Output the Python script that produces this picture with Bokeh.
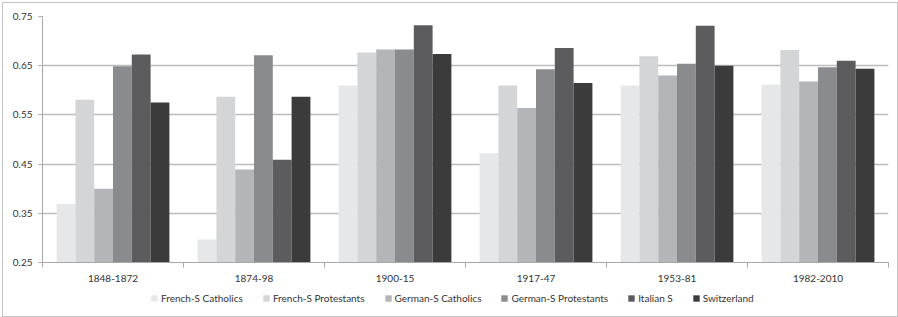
import numpy as np
from bokeh.plotting import figure
from bokeh.layouts import column
from bokeh.models import ColumnDataSource, Range1d, FixedTicker, Legend, LegendItem, NumeralTickFormatter
from bokeh.transform import dodge
from bokeh.embed import file_html
from bokeh.resources import INLINE

periods = ["1848-1872", "1874-98", "1900-15", "1917-47", "1953-81", "1982-2010"]
series_names = ["French-S Catholics", "French-S Protestants", "German-S Catholics",
                "German-S Protestants", "Italian S", "Switzerland"]
french_cath = [0.369, 0.297, 0.610, 0.472, 0.610, 0.612]
french_prot = [0.581, 0.587, 0.677, 0.610, 0.669, 0.682]
german_cath = [0.400, 0.439, 0.683, 0.564, 0.630, 0.618]
german_prot = [0.649, 0.671, 0.683, 0.643, 0.654, 0.647]
italian = [0.673, 0.459, 0.732, 0.686, 0.731, 0.660]
switzerland = [0.575, 0.587, 0.674, 0.615, 0.650, 0.644]
y_ticks = [0.25, 0.35, 0.45, 0.55, 0.65, 0.75]

colors = ["#e6e7e8", "#d4d5d7", "#b4b5b8", "#8a8b8e", "#5c5c5e", "#3b3b3b"]
FONT = "Lato"
W = 894

xc = np.arange(len(periods)) + 0.5
data = dict(x=xc, fc=french_cath, fp=french_prot, gc=german_cath,
            gp=german_prot, it=italian, sw=switzerland)
src = ColumnDataSource(data)
keys = ["fc", "fp", "gc", "gp", "it", "sw"]

p = figure(width=W, height=287, output_backend="svg", toolbar_location=None,
           x_range=Range1d(0, len(periods)), y_range=Range1d(0.25, 0.75))
p.min_border_left = 39
p.min_border_right = 9
p.min_border_top = 13
p.min_border_bottom = 28
p.outline_line_color = None

bw = 1 / 7.5
for i, k in enumerate(keys):
    p.vbar(x=dodge("x", (i - 2.5) * bw, range=p.x_range), top=k, bottom=0.25,
           width=bw, source=src, fill_color=colors[i], line_color=None)

# y axis
p.yaxis.ticker = FixedTicker(ticks=y_ticks)
p.yaxis.formatter = NumeralTickFormatter(format="0.00")
p.yaxis.axis_line_color = "#a8a8a8"
p.yaxis.major_tick_line_color = "#a8a8a8"
p.yaxis.major_tick_out = 4
p.yaxis.major_tick_in = 0
p.yaxis.minor_tick_line_color = None
p.yaxis.major_label_text_font = FONT
p.yaxis.major_label_text_font_size = "10px"
p.yaxis.major_label_text_color = "#333333"
p.yaxis.major_label_standoff = 6

# x axis
p.xaxis.ticker = FixedTicker(ticks=list(xc), minor_ticks=list(range(len(periods) + 1)))
p.xaxis.major_label_overrides = {float(v): lab for v, lab in zip(xc, periods)}
p.xaxis.axis_line_color = "#a8a8a8"
p.xaxis.major_tick_line_color = None
p.xaxis.minor_tick_line_color = "#a8a8a8"
p.xaxis.minor_tick_out = 5
p.xaxis.minor_tick_in = 0
p.xaxis.major_label_text_font = FONT
p.xaxis.major_label_text_font_size = "10px"
p.xaxis.major_label_text_color = "#333333"
p.xaxis.major_label_standoff = 6

p.xgrid.grid_line_color = None
p.ygrid.ticker = FixedTicker(ticks=y_ticks)
p.ygrid.grid_line_color = "#bdbdbd"
p.ygrid.grid_line_width = 1.3

# legend strip (its renderers share the data but sit outside the visible range)
lf = figure(width=W, height=26, output_backend="svg", toolbar_location=None,
            x_range=Range1d(0, len(periods)), y_range=Range1d(10, 11),
            x_axis_location=None, y_axis_location=None)
lf.min_border = 0
lf.outline_line_color = None
lf.grid.visible = False
items = []
for i, name in enumerate(series_names):
    r = lf.vbar(x=dodge("x", (i - 2.5) * bw, range=lf.x_range), top=keys[i], bottom=0.25,
                width=bw, source=src, fill_color=colors[i], line_color=None)
    items.append(LegendItem(label=name, renderers=[r]))

legend = Legend(items=items, orientation="horizontal", location=(108, 12))
legend.label_text_font = FONT
legend.label_text_font_size = "10px"
legend.label_text_color = "#333333"
legend.glyph_width = 8
legend.glyph_height = 8
legend.label_height = 10
legend.label_standoff = 3
legend.spacing = 19
legend.padding = 2
legend.margin = 0
legend.border_line_color = None
legend.background_fill_alpha = 0
lf.add_layout(legend, "center")

layout = column(p, lf, spacing=0,
                styles={"border": "1px solid #c4c4c4", "margin-left": "2px", "margin-top": "2px"})

open("out.html", "w").write(file_html(layout, INLINE))
